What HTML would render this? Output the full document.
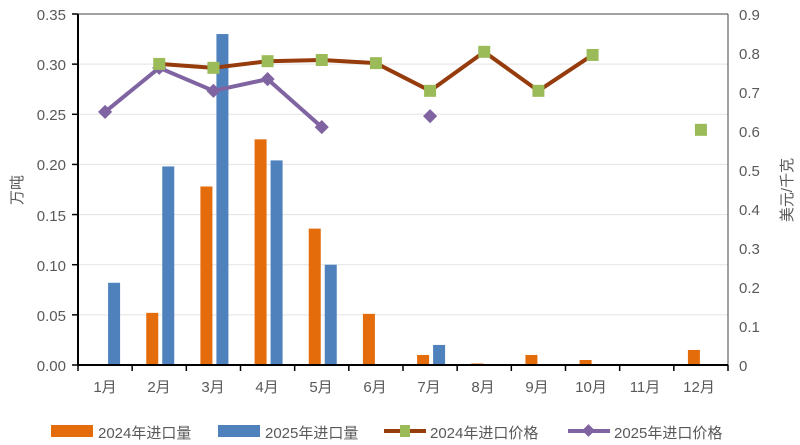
<!DOCTYPE html>
<html><head><meta charset="utf-8"><style>
body{margin:0;background:#fff;}
svg{display:block;font-family:"Liberation Sans","Noto Sans CJK SC",sans-serif;}
.t{fill:#595959;font-size:15px;}
</style></head><body>
<svg id="s" width="800" height="445" viewBox="0 0 800 445">
<g id="grid"></g>
<g id="bars"></g>
<line x1="78" y1="14" x2="728" y2="14" stroke="#444" stroke-width="1"/>
<line x1="728" y1="14" x2="728" y2="365" stroke="#444" stroke-width="1"/>
<line x1="78" y1="14" x2="78" y2="366" stroke="#000" stroke-width="2"/>
<line x1="77" y1="365" x2="728" y2="365" stroke="#000" stroke-width="2"/>
<g id="ticks" stroke="#000" stroke-width="1.5"></g>
<g id="lines"></g>
<g class="t" text-anchor="end">
<text x="66" y="20">0.35</text><text x="66" y="70">0.30</text><text x="66" y="120">0.25</text><text x="66" y="170">0.20</text><text x="66" y="221">0.15</text><text x="66" y="271">0.10</text><text x="66" y="321">0.05</text><text x="66" y="371">0.00</text>
</g>
<g class="t" text-anchor="start">
<text x="739" y="20">0.9</text><text x="739" y="59">0.8</text><text x="739" y="98">0.7</text><text x="739" y="137">0.6</text><text x="739" y="176">0.5</text><text x="739" y="215">0.4</text><text x="739" y="254">0.3</text><text x="739" y="293">0.2</text><text x="739" y="332">0.1</text><text x="739" y="371">0</text>
</g>
<g class="t" text-anchor="middle" font-size="16">
<text x="105" y="392">1月</text><text x="159" y="392">2月</text><text x="213" y="392">3月</text><text x="267" y="392">4月</text><text x="321" y="392">5月</text><text x="375" y="392">6月</text><text x="429" y="392">7月</text><text x="483" y="392">8月</text><text x="537" y="392">9月</text><text x="591" y="392">10月</text><text x="645" y="392">11月</text><text x="699" y="392">12月</text>
</g>
<text class="t" font-size="18" transform="translate(22,190) rotate(-90)" text-anchor="middle">万吨</text>
<text class="t" font-size="19" transform="translate(792,190) rotate(-90)" text-anchor="middle">美元/千克</text>
<g class="t" font-size="17">
<rect x="51" y="425" width="42" height="12" fill="#E46C0A"/><text x="98" y="438">2024年进口量</text>
<rect x="218" y="425" width="42" height="12" fill="#4F81BD"/><text x="265" y="438">2025年进口量</text>
<line x1="384" y1="431" x2="426" y2="431" stroke="#953B0C" stroke-width="4"/><rect x="400" y="425" width="10" height="12" fill="#9BBB59"/><text x="430" y="438">2024年进口价格</text>
<line x1="568" y1="431" x2="610" y2="431" stroke="#8064A2" stroke-width="4"/><rect x="584" y="426" width="9" height="9" fill="#8064A2" transform="rotate(45 588.5 430.5)"/><text x="614" y="438">2025年进口价格</text>
</g>
</svg>
<script>
var NS="http://www.w3.org/2000/svg";
function el(p,t,a){var e=document.createElementNS(NS,t);for(var k in a)e.setAttribute(k,a[k]);document.getElementById(p).appendChild(e);return e;}
var w=(728-78)/12;function cx(i){return 78+w*(i+0.5);}
function yl(v){return 365-v/0.35*351;}function yr(v){return 365-v/0.9*351;}
for(var v=0.05;v<0.351;v+=0.05){el("grid","line",{x1:78,x2:728,y1:yl(v),y2:yl(v),stroke:"#e3e3e3","stroke-width":1});}
for(var i=0;i<=7;i++){el("ticks","line",{x1:72,x2:78,y1:yl(i*0.05),y2:yl(i*0.05)});}
for(var i=0;i<=12;i++){var x=78+w*i;el("ticks","line",{x1:x,x2:x,y1:365,y2:371});}
var a=[0,0.052,0.178,0.225,0.136,0.051,0.01,0.0015,0.01,0.005,0,0.015];
var b=[0.082,0.198,0.33,0.204,0.1,0,0.02,0,0,0,0,0];
for(var i=0;i<12;i++){var c=cx(i);
if(a[i]>0)el("bars","rect",{x:c-13,y:yl(a[i]),width:12,height:365-yl(a[i]),fill:"#E46C0A"});
if(b[i]>0)el("bars","rect",{x:c+3,y:yl(b[i]),width:12,height:365-yl(b[i]),fill:"#4F81BD"});}
var p24=[null,0.772,0.762,0.779,0.782,0.774,0.703,0.803,0.703,0.795,null,0.603];
var p25=[0.649,0.762,0.703,0.733,0.61,null,0.638,null,null,null,null,null];
function line(p,col){var d="",pen=false;for(var i=0;i<12;i++){if(p[i]==null){pen=false;continue;}d+=(pen?"L":"M")+cx(i)+" "+yr(p[i])+" ";pen=true;}
el("lines","path",{d:d,fill:"none",stroke:col,"stroke-width":4,"stroke-linejoin":"round"});}
line(p24,"#953B0C");line(p25,"#8064A2");
for(var i=0;i<12;i++){if(p25[i]!=null){var x=cx(i),y=yr(p25[i]);el("lines","rect",{x:x-5,y:y-5,width:10,height:10,fill:"#8064A2",transform:"rotate(45 "+x+" "+y+")"});}}
for(var i=0;i<12;i++){if(p24[i]!=null){var x=cx(i),y=yr(p24[i]);el("lines","rect",{x:x-6,y:y-6,width:12,height:12,fill:"#9BBB59"});}}
</script>
</body></html>
